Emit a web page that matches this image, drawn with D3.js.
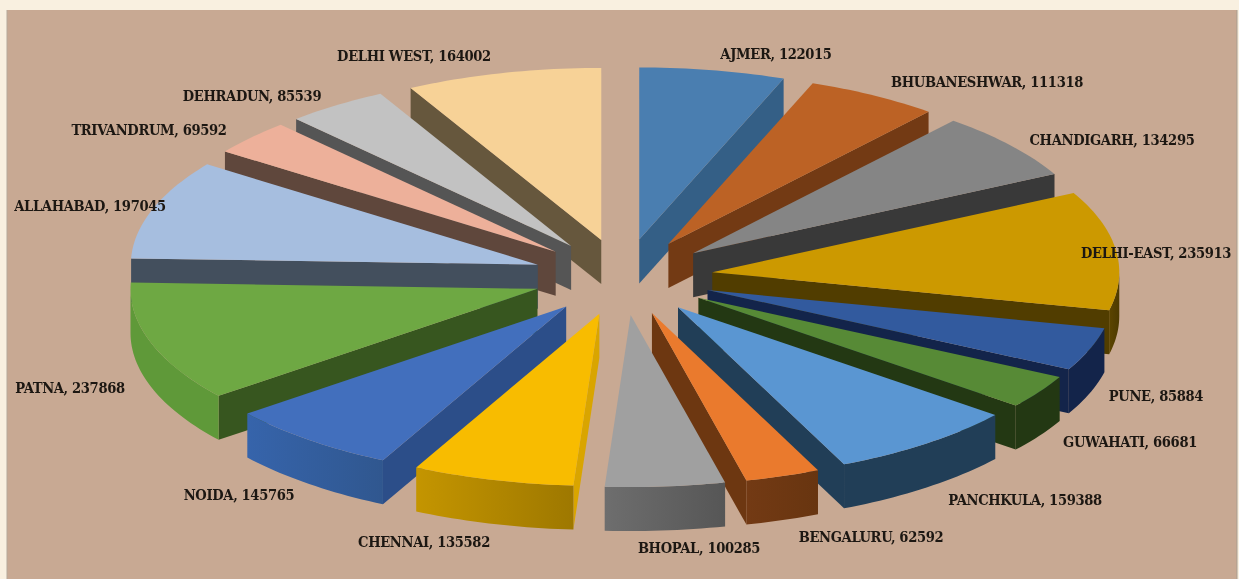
<!DOCTYPE html>
<html><head><meta charset="utf-8">
<script src="https://cdnjs.cloudflare.com/ajax/libs/d3/7.8.5/d3.min.js"></script>
<style>html,body{margin:0;padding:0;background:#f9f0e0;overflow:hidden}svg{display:block;filter:blur(0.55px)}</style>
</head><body><svg id="c" width="1239" height="579"></svg>
<script>
const categories=["AJMER","BHUBANESHWAR","CHANDIGARH","DELHI-EAST","PUNE","GUWAHATI","PANCHKULA","BENGALURU","BHOPAL","CHENNAI","NOIDA","PATNA","ALLAHABAD","TRIVANDRUM","DEHRADUN","DELHI WEST"];
const values=[122015,111318,134295,235913,85884,66681,159388,62592,100285,135582,145765,237868,197045,69592,85539,164002];
const topColors=["#4a7eb0","#bc6225","#858585","#cc9900","#325a9e","#578a36","#5a96d2","#ea7a2d","#a0a0a0","#f8bc00","#426fbd","#6ea843","#a6bedf","#edb09a","#c2c2c2","#f7d297"];
const sideColors=["#345f86","#733a14","#393939","#513d00","#13244a","#233813","#213e57","#6d3711","#5a5a5a","#d9a500","#2c4e89","#37561f","#434f5d","#5f473c","#555555","#66573d"];
const rimStart=["#345f86","#733a14","#393939","#5c4500","#13244a","#233813","#213e57","#733a14","#6e6e6e","#c49500","#3664ab","#5f9939","#434f5d","#5f473c","#555555","#66573d"];
const rimEnd=["#345f86","#733a14","#393939","#4d3a00","#13244a","#233813","#213e57","#683510","#565656","#9e7800","#30578f","#5f9939","#434f5d","#5f473c","#555555","#66573d"];
const labelCenters=[[776,53],[987,81],[1112,139],[1156,252],[1156,395],[1130,441],[1025,499],[871,536],[699,547],[424,541],[239,494],[70,387],[90,205],[149,129],[252,95],[414,55]];

const W=1239,H=579,cx=623,cy=277,R=407,tilt=0.423,explode=90,depth=44;
const svg=d3.select("#c");
svg.append("rect").attr("x",7).attr("y",10).attr("width",1230).attr("height",569).attr("fill","#c8a993");
svg.append("line").attr("x1",7).attr("x2",7).attr("y1",10).attr("y2",579).attr("stroke","#b5a99a").attr("stroke-width",1);
svg.append("line").attr("x1",1237).attr("x2",1237).attr("y1",10).attr("y2",579).attr("stroke","#a89c8e").attr("stroke-width",1);

const sx=d3.scaleLinear().domain([-1,1]).range([cx-R,cx+R]);
const sy=d3.scaleLinear().domain([-1,1]).range([cy-R*tilt,cy+R*tilt]);
const unit=explode/R;
const pie=d3.pie().sort(null).value((d,i)=>values[i]).startAngle(0).endAngle(2*Math.PI);
const arcs=pie(categories).map((a,i)=>({...a,i,name:categories[i],val:values[i],mid:(a.startAngle+a.endAngle)/2}));
const line=d3.line().x(p=>p[0]).y(p=>p[1]);
function pt(a,r,o){return [sx(o*Math.sin(a.mid)+r*Math.sin(a.t)),sy(-o*Math.cos(a.mid)-r*Math.cos(a.t))];}
function rim(d,a0,a1){const n=Math.max(2,Math.ceil((a1-a0)/0.02));
  return d3.range(n+1).map(k=>{const t=a0+(a1-a0)*k/n;return pt({mid:d.mid,t},1,unit);});}
function apex(d){return pt({mid:d.mid,t:0},0,unit);}
const down=p=>[p[0],p[1]+depth];
const defs=svg.append("defs");
const order=arcs.slice().sort((a,b)=>Math.cos(b.mid)-Math.cos(a.mid));
const g=svg.append("g");
order.forEach(d=>{
  const s=g.append("g").attr("class","slice");
  const gid="rim"+d.i;
  const gr=defs.append("linearGradient").attr("id",gid).attr("x1",0).attr("x2",1).attr("y1",0).attr("y2",0);
  gr.append("stop").attr("offset",0).attr("stop-color",rimStart[d.i]);
  gr.append("stop").attr("offset",1).attr("stop-color",rimEnd[d.i]);
  const A=apex(d);
  const wall=(ang)=>{const e=rim(d,ang,ang+1e-4)[0];
    s.append("path").attr("d",line([A,e,down(e),down(A)])+"Z").attr("fill",sideColors[d.i]);};
  if(Math.sin(d.startAngle)<-1e-6) wall(d.startAngle);
  if(Math.sin(d.endAngle)>1e-6) wall(d.endAngle);
  const a0=Math.max(d.startAngle,Math.PI/2),a1=Math.min(d.endAngle,3*Math.PI/2);
  if(a1>a0){const r=rim(d,a0,a1);
    s.append("path").attr("d",line(r.concat(r.map(down).reverse()))+"Z").attr("fill",`url(#${gid})`);}
  s.append("path").attr("d",line([A].concat(rim(d,d.startAngle,d.endAngle)))+"Z").attr("fill",topColors[d.i]);
});
svg.append("g").selectAll("text").data(arcs).join("text")
  .attr("x",d=>labelCenters[d.i][0]).attr("y",d=>labelCenters[d.i][1])
  .attr("text-anchor","middle").attr("dominant-baseline","central")
  .attr("font-family","'DejaVu Serif',serif").attr("font-weight","bold").attr("font-stretch","condensed")
  .attr("font-size",14.6).attr("letter-spacing",-0.35).attr("fill","#1c1712")
  .text(d=>`${d.name}, ${d.val}`);
</script></body></html>
